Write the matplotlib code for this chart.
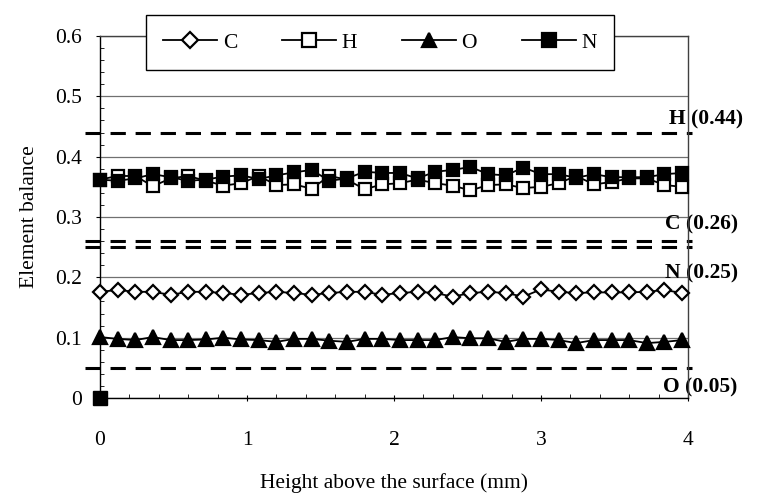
import matplotlib
matplotlib.use('Agg')
import matplotlib.pyplot as plt
from matplotlib.ticker import MultipleLocator, FixedLocator, FixedFormatter

plt.rcParams['font.family'] = ['Liberation Serif', 'DejaVu Serif']

# ===== DATA =====
height_mm = [0.00, 0.12, 0.24, 0.36, 0.48, 0.60, 0.72, 0.84, 0.96, 1.08,
             1.20, 1.32, 1.44, 1.56, 1.68, 1.80, 1.92, 2.04, 2.16, 2.28,
             2.40, 2.52, 2.64, 2.76, 2.88, 3.00, 3.12, 3.24, 3.36, 3.48,
             3.60, 3.72, 3.84, 3.96]

c_balance = [0.176, 0.179, 0.176, 0.176, 0.171, 0.176, 0.176, 0.174, 0.171, 0.174,
             0.176, 0.174, 0.171, 0.174, 0.176, 0.176, 0.171, 0.174, 0.176, 0.174,
             0.168, 0.174, 0.176, 0.174, 0.168, 0.180, 0.176, 0.174, 0.175, 0.175,
             0.175, 0.176, 0.179, 0.174]

h_balance = [0.362, 0.368, 0.368, 0.351, 0.364, 0.368, 0.360, 0.352, 0.356, 0.368,
             0.353, 0.354, 0.347, 0.368, 0.362, 0.346, 0.354, 0.356, 0.362, 0.356,
             0.352, 0.344, 0.353, 0.354, 0.348, 0.350, 0.356, 0.368, 0.354, 0.358,
             0.364, 0.364, 0.353, 0.350]

o_balance = [0.101, 0.098, 0.096, 0.101, 0.096, 0.096, 0.097, 0.100, 0.097, 0.096,
             0.093, 0.098, 0.098, 0.095, 0.093, 0.098, 0.098, 0.096, 0.096, 0.096,
             0.101, 0.099, 0.099, 0.093, 0.098, 0.098, 0.096, 0.091, 0.096, 0.096,
             0.096, 0.091, 0.093, 0.096]

n_balance = [0.362, 0.360, 0.364, 0.371, 0.366, 0.360, 0.362, 0.367, 0.369, 0.363,
             0.369, 0.374, 0.378, 0.360, 0.364, 0.375, 0.373, 0.373, 0.364, 0.375,
             0.378, 0.383, 0.371, 0.369, 0.382, 0.371, 0.371, 0.365, 0.371, 0.366,
             0.366, 0.366, 0.371, 0.373]

# lone N point sitting on the origin
n_extra_x = [0.0]
n_extra_y = [0.0]

# axis ticks
y_ticks = [0, 0.1, 0.2, 0.3, 0.4, 0.5, 0.6]
y_ticklabels = ['0', '0.1', '0.2', '0.3', '0.4', '0.5', '0.6']
x_ticks = [0, 1, 2, 3, 4]
x_ticklabels = ['0', '1', '2', '3', '4']

# reference levels (dashed) and their labels
ref_values = [0.44, 0.26, 0.25, 0.05]
ref_labels = ['H (0.44)', 'C (0.26)', 'N (0.25)', 'O (0.05)']
ref_label_y = [0.461, 0.287, 0.207, 0.018]
ref_label_x = [3.871, 3.844, 3.844, 3.830]

FS = 15.5

# ===== PLOT =====
fig = plt.figure(figsize=(7.73, 5.01), dpi=100)
ax = fig.add_axes([100/773, 1 - 398/501, 588/773, 362/501])

ax.set_xlim(0, 4)
ax.set_ylim(0, 0.6)

# gridlines
ax.yaxis.grid(True, color='#707070', linewidth=0.9)
ax.set_axisbelow(True)

# dashed reference lines (run a bit outside the plot area)
for v in ref_values:
    ax.plot([-0.1, 4.03], [v, v], color='black', linewidth=2.2,
            dashes=(5, 3.2), clip_on=False, zorder=2)

ms_line = dict(color='black', linewidth=1.3, markeredgewidth=1.6, clip_on=False, zorder=4)
ax.plot(height_mm, c_balance, marker='D', markersize=7.2, markerfacecolor='white',
        label='C', **ms_line)
ax.plot(height_mm, h_balance, marker='s', markersize=9.3, markerfacecolor='white',
        label='H', **ms_line)
ax.plot(height_mm, o_balance, marker='^', markersize=9.5, markerfacecolor='black',
        label='O', **ms_line)
ax.plot(height_mm, n_balance, marker='s', markersize=9.3, markerfacecolor='black',
        label='N', **ms_line)
ax.plot(n_extra_x, n_extra_y, linestyle='none', marker='s', markersize=9.5,
        color='black', clip_on=False, zorder=4)

for lab, lx, ly in zip(ref_labels, ref_label_x, ref_label_y):
    ax.text(lx, ly, lab, fontsize=FS, fontweight='bold', ha='left', va='center',
            zorder=1)

# spines
for side in ['top', 'right']:
    ax.spines[side].set_color('#404040')
    ax.spines[side].set_linewidth(1.0)
for side in ['left', 'bottom']:
    ax.spines[side].set_color('black')
    ax.spines[side].set_linewidth(1.0)

# ticks
ax.yaxis.set_major_locator(FixedLocator(y_ticks))
ax.yaxis.set_major_formatter(FixedFormatter(y_ticklabels))
ax.yaxis.set_minor_locator(MultipleLocator(0.02))
ax.xaxis.set_major_locator(FixedLocator(x_ticks))
ax.xaxis.set_major_formatter(FixedFormatter(x_ticklabels))
ax.xaxis.set_minor_locator(MultipleLocator(0.2))
ax.tick_params(axis='y', which='major', direction='out', length=3, width=0.8,
               labelsize=FS, pad=10)
ax.tick_params(axis='y', which='minor', direction='in', length=3, width=0.6)
ax.tick_params(axis='x', which='major', direction='inout', length=5, width=0.8,
               labelsize=FS, pad=21)
ax.tick_params(axis='x', which='minor', direction='in', length=3, width=0.6)

fig.text(30/773, 1 - 217/501, 'Element balance', rotation=90, fontsize=FS,
         ha='center', va='center')
fig.text(394/773, 1 - 483/501, 'Height above the surface (mm)', fontsize=FS,
         ha='center', va='center')

leg = fig.legend(loc='center', bbox_to_anchor=(380/773, 1 - 42.5/501), ncol=4,
                 frameon=True, fancybox=False, fontsize=FS, handlelength=2.5,
                 handletextpad=0.25, columnspacing=2.1, borderpad=0.8,
                 markerscale=1.1)
leg.get_frame().set_edgecolor('black')
leg.get_frame().set_linewidth(1.0)
leg.get_frame().set_alpha(1)

fig.savefig('out.png', dpi=100)
